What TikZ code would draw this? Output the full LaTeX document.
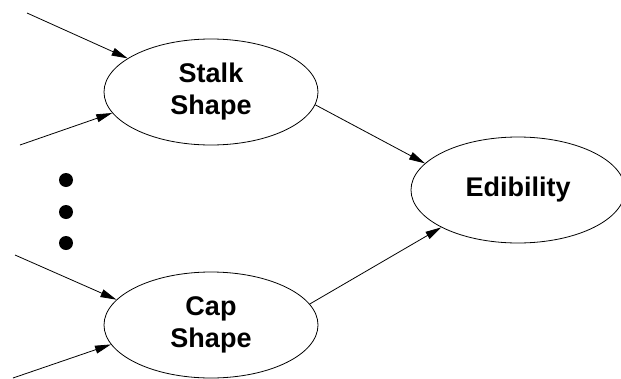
\documentclass[tikz,border=0pt]{standalone}
\usepackage{fontspec}
\setmainfont{Liberation Sans}
\usetikzlibrary{shapes.geometric,arrows.meta}
\tikzset{
  var/.style={ellipse, draw, line width=0.8pt, minimum width=214pt, minimum height=106pt,
    inner sep=0pt, align=center, font=\fontsize{27}{32}\selectfont\bfseries},
  link/.style={line width=0.8pt, -{Triangle[length=16pt,width=8pt]}},
  dotmark/.style={circle, fill, inner sep=0pt, minimum size=14pt}
}
\begin{document}
\begin{tikzpicture}[x=1pt,y=-1pt]
  \useasboundingbox (0,0) rectangle (621,378);

  % variable nodes
  \node[var] (stalk) at (211,92) {Stalk\\Shape};
  \node[var] (cap)   at (211,325) {Cap\\Shape};
  \node[var] (edib)  at (518,190) {Edibility};

  % ellipsis dots between the input groups
  \node[dotmark] (d1) at (66,180) {};
  \node[dotmark] (d2) at (66,212) {};
  \node[dotmark] (d3) at (66,243) {};

  % loose ends of the incoming links
  \coordinate (in1) at (27,13);
  \coordinate (in2) at (20,145);
  \coordinate (in3) at (15,255);
  \coordinate (in4) at (13,378);

  % incoming links
  \draw[link] (in1) -- (stalk.158.9);
  \draw[link] (in2) -- (stalk.192);
  \draw[link] (in3) -- (cap.165.7);
  \draw[link] (in4) -- (cap.191);

  % links into the edibility node
  \draw[link] (stalk.-7) -- (edib.164.7);
  \draw[link] (cap.12) -- (edib.206.8);
\end{tikzpicture}
\end{document}
